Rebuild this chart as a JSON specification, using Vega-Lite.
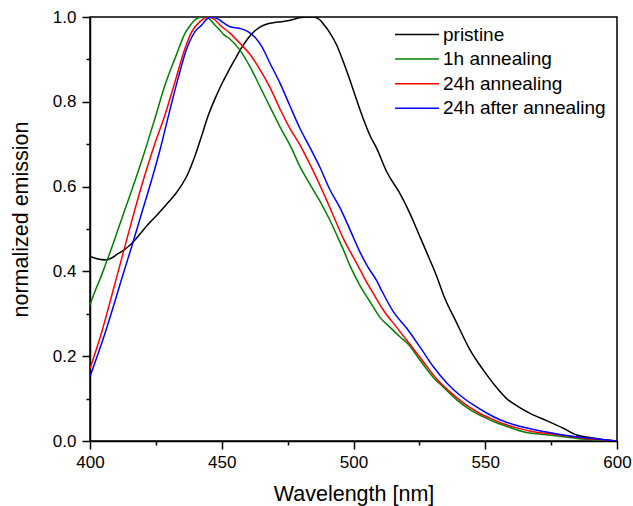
{
"$schema": "https://vega.github.io/schema/vega-lite/v6.json",
"width": 527, "height": 424,
"autosize": {"type": "none"},
"padding": {"left": 90, "top": 17, "right": 16, "bottom": 65},
"background": "white",
"config": {"view": {"stroke": "black", "strokeWidth": 1.5}, "font": "Liberation Sans"},
"data": {"values": [
{"s":"pristine","w":400,"e":0.435},{"s":"pristine","w":403,"e":0.429},{"s":"pristine","w":406,"e":0.427},{"s":"pristine","w":408,"e":0.431},{"s":"pristine","w":410,"e":0.439},{"s":"pristine","w":412.5,"e":0.449},{"s":"pristine","w":415,"e":0.461},{"s":"pristine","w":417.5,"e":0.477},{"s":"pristine","w":420,"e":0.496},{"s":"pristine","w":422.5,"e":0.514},{"s":"pristine","w":425,"e":0.53},{"s":"pristine","w":427.5,"e":0.547},{"s":"pristine","w":430,"e":0.565},{"s":"pristine","w":432.5,"e":0.583},{"s":"pristine","w":434.5,"e":0.601},{"s":"pristine","w":437,"e":0.628},{"s":"pristine","w":440,"e":0.675},{"s":"pristine","w":442.5,"e":0.722},{"s":"pristine","w":445,"e":0.77},{"s":"pristine","w":447.5,"e":0.808},{"s":"pristine","w":450,"e":0.842},{"s":"pristine","w":452.5,"e":0.872},{"s":"pristine","w":455,"e":0.9},{"s":"pristine","w":457.5,"e":0.927},{"s":"pristine","w":460,"e":0.95},{"s":"pristine","w":462.5,"e":0.967},{"s":"pristine","w":465,"e":0.978},{"s":"pristine","w":467.5,"e":0.984},{"s":"pristine","w":470,"e":0.987},{"s":"pristine","w":472.5,"e":0.989},{"s":"pristine","w":475,"e":0.991},{"s":"pristine","w":477.5,"e":0.995},{"s":"pristine","w":480,"e":0.999},{"s":"pristine","w":482.5,"e":1.0},{"s":"pristine","w":484.7,"e":1.0},{"s":"pristine","w":487.3,"e":0.993},{"s":"pristine","w":489,"e":0.98},{"s":"pristine","w":491.1,"e":0.962},{"s":"pristine","w":493.6,"e":0.934},{"s":"pristine","w":496.1,"e":0.895},{"s":"pristine","w":498.7,"e":0.85},{"s":"pristine","w":501.2,"e":0.804},{"s":"pristine","w":503.7,"e":0.76},{"s":"pristine","w":506.3,"e":0.72},{"s":"pristine","w":508.8,"e":0.69},{"s":"pristine","w":512.6,"e":0.635},{"s":"pristine","w":517.6,"e":0.584},{"s":"pristine","w":521.4,"e":0.537},{"s":"pristine","w":525.2,"e":0.482},{"s":"pristine","w":529,"e":0.427},{"s":"pristine","w":531.6,"e":0.388},{"s":"pristine","w":534.1,"e":0.345},{"s":"pristine","w":539.2,"e":0.278},{"s":"pristine","w":544.2,"e":0.215},{"s":"pristine","w":549.3,"e":0.167},{"s":"pristine","w":554.3,"e":0.126},{"s":"pristine","w":558.1,"e":0.1},{"s":"pristine","w":562.5,"e":0.081},{"s":"pristine","w":567,"e":0.065},{"s":"pristine","w":573.3,"e":0.048},{"s":"pristine","w":579.6,"e":0.03},{"s":"pristine","w":584.7,"e":0.014},{"s":"pristine","w":589.8,"e":0.008},{"s":"pristine","w":595,"e":0.003},{"s":"pristine","w":600,"e":0.0},
{"s":"1h annealing","w":400,"e":0.321},{"s":"1h annealing","w":401.9,"e":0.353},{"s":"1h annealing","w":404,"e":0.385},{"s":"1h annealing","w":405.7,"e":0.413},{"s":"1h annealing","w":408.2,"e":0.455},{"s":"1h annealing","w":410.7,"e":0.5},{"s":"1h annealing","w":414.5,"e":0.568},{"s":"1h annealing","w":418.3,"e":0.636},{"s":"1h annealing","w":420.2,"e":0.672},{"s":"1h annealing","w":424.7,"e":0.762},{"s":"1h annealing","w":428.5,"e":0.84},{"s":"1h annealing","w":432.3,"e":0.903},{"s":"1h annealing","w":436.1,"e":0.962},{"s":"1h annealing","w":438,"e":0.98},{"s":"1h annealing","w":439.8,"e":0.993},{"s":"1h annealing","w":442.4,"e":1.0},{"s":"1h annealing","w":444.9,"e":0.997},{"s":"1h annealing","w":447.4,"e":0.981},{"s":"1h annealing","w":449.3,"e":0.969},{"s":"1h annealing","w":450.5,"e":0.96},{"s":"1h annealing","w":453.1,"e":0.948},{"s":"1h annealing","w":456.9,"e":0.922},{"s":"1h annealing","w":460.7,"e":0.883},{"s":"1h annealing","w":464.5,"e":0.836},{"s":"1h annealing","w":468.3,"e":0.788},{"s":"1h annealing","w":472.1,"e":0.741},{"s":"1h annealing","w":476.5,"e":0.69},{"s":"1h annealing","w":479.7,"e":0.647},{"s":"1h annealing","w":483.5,"e":0.605},{"s":"1h annealing","w":487.3,"e":0.565},{"s":"1h annealing","w":491.1,"e":0.52},{"s":"1h annealing","w":494.2,"e":0.478},{"s":"1h annealing","w":496.1,"e":0.452},{"s":"1h annealing","w":498.7,"e":0.413},{"s":"1h annealing","w":502.5,"e":0.366},{"s":"1h annealing","w":506.3,"e":0.328},{"s":"1h annealing","w":510.1,"e":0.291},{"s":"1h annealing","w":513.9,"e":0.268},{"s":"1h annealing","w":517.6,"e":0.246},{"s":"1h annealing","w":520.8,"e":0.228},{"s":"1h annealing","w":525.2,"e":0.191},{"s":"1h annealing","w":530.3,"e":0.15},{"s":"1h annealing","w":534.1,"e":0.127},{"s":"1h annealing","w":539.2,"e":0.097},{"s":"1h annealing","w":544.2,"e":0.074},{"s":"1h annealing","w":549.3,"e":0.057},{"s":"1h annealing","w":554.3,"e":0.043},{"s":"1h annealing","w":559.4,"e":0.032},{"s":"1h annealing","w":564.4,"e":0.022},{"s":"1h annealing","w":569.5,"e":0.017},{"s":"1h annealing","w":575.8,"e":0.013},{"s":"1h annealing","w":584.7,"e":0.006},{"s":"1h annealing","w":593.5,"e":0.002},{"s":"1h annealing","w":600,"e":0.0},
{"s":"24h annealing","w":400,"e":0.171},{"s":"24h annealing","w":404.4,"e":0.256},{"s":"24h annealing","w":408.2,"e":0.342},{"s":"24h annealing","w":412,"e":0.43},{"s":"24h annealing","w":415.8,"e":0.518},{"s":"24h annealing","w":419.6,"e":0.602},{"s":"24h annealing","w":424,"e":0.69},{"s":"24h annealing","w":428.5,"e":0.77},{"s":"24h annealing","w":432.3,"e":0.848},{"s":"24h annealing","w":436,"e":0.925},{"s":"24h annealing","w":438.6,"e":0.965},{"s":"24h annealing","w":441.7,"e":0.989},{"s":"24h annealing","w":444.9,"e":1.0},{"s":"24h annealing","w":447.5,"e":0.993},{"s":"24h annealing","w":449.3,"e":0.981},{"s":"24h annealing","w":453.1,"e":0.962},{"s":"24h annealing","w":456.9,"e":0.938},{"s":"24h annealing","w":460.7,"e":0.912},{"s":"24h annealing","w":464.5,"e":0.876},{"s":"24h annealing","w":468.3,"e":0.834},{"s":"24h annealing","w":472.1,"e":0.783},{"s":"24h annealing","w":475.9,"e":0.737},{"s":"24h annealing","w":479.7,"e":0.698},{"s":"24h annealing","w":484.7,"e":0.637},{"s":"24h annealing","w":489.8,"e":0.568},{"s":"24h annealing","w":493,"e":0.522},{"s":"24h annealing","w":496.1,"e":0.478},{"s":"24h annealing","w":498.7,"e":0.447},{"s":"24h annealing","w":501.2,"e":0.419},{"s":"24h annealing","w":504.5,"e":0.38},{"s":"24h annealing","w":507.5,"e":0.348},{"s":"24h annealing","w":511.3,"e":0.309},{"s":"24h annealing","w":516.4,"e":0.268},{"s":"24h annealing","w":521.4,"e":0.228},{"s":"24h annealing","w":526.5,"e":0.187},{"s":"24h annealing","w":531.6,"e":0.146},{"s":"24h annealing","w":536.6,"e":0.116},{"s":"24h annealing","w":541.7,"e":0.09},{"s":"24h annealing","w":546.8,"e":0.069},{"s":"24h annealing","w":551.8,"e":0.054},{"s":"24h annealing","w":556.8,"e":0.041},{"s":"24h annealing","w":561.9,"e":0.031},{"s":"24h annealing","w":568.2,"e":0.022},{"s":"24h annealing","w":574.6,"e":0.017},{"s":"24h annealing","w":580.9,"e":0.012},{"s":"24h annealing","w":588.5,"e":0.006},{"s":"24h annealing","w":600,"e":0.0},
{"s":"24h after annealing","w":400,"e":0.152},{"s":"24h after annealing","w":405.7,"e":0.254},{"s":"24h after annealing","w":409.5,"e":0.33},{"s":"24h after annealing","w":412,"e":0.382},{"s":"24h after annealing","w":415.8,"e":0.458},{"s":"24h after annealing","w":419.6,"e":0.537},{"s":"24h after annealing","w":423.4,"e":0.616},{"s":"24h after annealing","w":426.5,"e":0.685},{"s":"24h after annealing","w":429.7,"e":0.765},{"s":"24h after annealing","w":433.5,"e":0.857},{"s":"24h after annealing","w":436.7,"e":0.925},{"s":"24h after annealing","w":439.8,"e":0.965},{"s":"24h after annealing","w":442.4,"e":0.981},{"s":"24h after annealing","w":444.3,"e":0.995},{"s":"24h after annealing","w":445.9,"e":1.0},{"s":"24h after annealing","w":448.7,"e":0.995},{"s":"24h after annealing","w":451,"e":0.985},{"s":"24h after annealing","w":453.1,"e":0.977},{"s":"24h after annealing","w":456.9,"e":0.973},{"s":"24h after annealing","w":460.1,"e":0.965},{"s":"24h after annealing","w":462.6,"e":0.952},{"s":"24h after annealing","w":465.2,"e":0.93},{"s":"24h after annealing","w":468.3,"e":0.891},{"s":"24h after annealing","w":472.1,"e":0.844},{"s":"24h after annealing","w":475.9,"e":0.79},{"s":"24h after annealing","w":479.7,"e":0.737},{"s":"24h after annealing","w":483.5,"e":0.692},{"s":"24h after annealing","w":487.3,"e":0.645},{"s":"24h after annealing","w":491.1,"e":0.592},{"s":"24h after annealing","w":494.9,"e":0.55},{"s":"24h after annealing","w":498.7,"e":0.498},{"s":"24h after annealing","w":502.5,"e":0.445},{"s":"24h after annealing","w":505.5,"e":0.41},{"s":"24h after annealing","w":508.8,"e":0.378},{"s":"24h after annealing","w":510.5,"e":0.357},{"s":"24h after annealing","w":515.1,"e":0.305},{"s":"24h after annealing","w":520.2,"e":0.266},{"s":"24h after annealing","w":525.2,"e":0.222},{"s":"24h after annealing","w":530.3,"e":0.175},{"s":"24h after annealing","w":535.4,"e":0.137},{"s":"24h after annealing","w":540.4,"e":0.108},{"s":"24h after annealing","w":545.5,"e":0.085},{"s":"24h after annealing","w":550.5,"e":0.066},{"s":"24h after annealing","w":555.6,"e":0.05},{"s":"24h after annealing","w":560.6,"e":0.039},{"s":"24h after annealing","w":567,"e":0.029},{"s":"24h after annealing","w":573.3,"e":0.021},{"s":"24h after annealing","w":579.6,"e":0.014},{"s":"24h after annealing","w":587.2,"e":0.008},{"s":"24h after annealing","w":593.5,"e":0.004},{"s":"24h after annealing","w":600,"e":0.0}
]},
"mark": {"type": "line", "strokeWidth": 1.5, "interpolate": "monotone", "clip": true},
"encoding": {
"x": {"field": "w", "type": "quantitative",
 "scale": {"domain": [400, 600], "nice": false, "zero": false},
 "axis": {"title": "Wavelength [nm]", "values": [400,425,450,475,500,525,550,575,600],
  "labelExpr": "datum.value % 50 === 0 ? datum.label : ''", "labelOverlap": false, "labelFlush": false,
  "grid": false, "domainColor": "black", "domainWidth": 1.5, "tickColor": "black", "tickWidth": 1.5,
  "tickSize": {"condition": {"test": "datum.value % 50 === 0", "value": 8}, "value": 4},
  "labelFontSize": 17, "labelColor": "black", "labelPadding": 5,
  "titleFontSize": 21.5, "titleFontWeight": "normal", "titleColor": "black",
  "titleBaseline": "alphabetic", "titleY": 59}},
"y": {"field": "e", "type": "quantitative",
 "scale": {"domain": [0, 1], "nice": false},
 "axis": {"title": "normalized emission", "values": [0,0.1,0.2,0.3,0.4,0.5,0.6,0.7,0.8,0.9,1.0], "format": ".1f",
  "labelExpr": "round(datum.value*10) % 2 === 0 ? datum.label : ''", "labelOverlap": false, "labelFlush": false,
  "grid": false, "domainColor": "black", "domainWidth": 1.5, "tickColor": "black", "tickWidth": 1.5,
  "tickSize": {"condition": {"test": "round(datum.value*10) % 2 === 0", "value": 8}, "value": 4},
  "labelFontSize": 17, "labelColor": "black", "labelPadding": 6,
  "titleFontSize": 21.5, "titleFontWeight": "normal", "titleColor": "black",
  "titleBaseline": "alphabetic", "titleAlign": "center", "titleX": -62.5, "titleY": 202}},
"color": {"field": "s", "type": "nominal",
 "scale": {"domain": ["pristine", "1h annealing", "24h annealing", "24h after annealing"], "range": ["#000000", "#008000", "#ff0000", "#0000ff"]},
 "legend": {"orient": "none", "legendX": 334, "legendY": 8, "title": null,
  "symbolType": "M-7,0H1", "symbolSize": 121, "symbolStrokeWidth": 1.5,
  "labelFontSize": 19, "labelColor": "black", "labelOffset": 0, "rowPadding": 4.6, "labelLimit": 300}}
}
}
